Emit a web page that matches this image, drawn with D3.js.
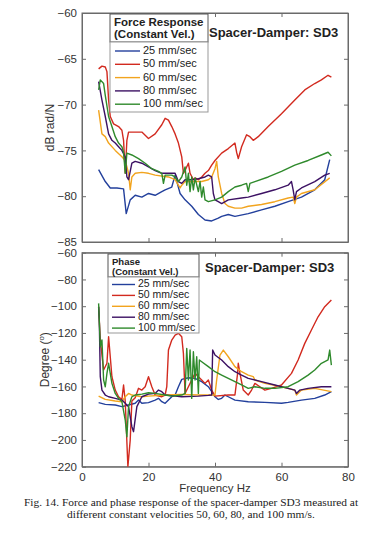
<!DOCTYPE html>
<html>
<head>
<meta charset="utf-8">
<script src="https://cdn.jsdelivr.net/npm/d3@7"></script>
<style>
  body { margin: 0; background: #fff; }
  svg { display: block; font-family: "Liberation Sans", Arial, sans-serif; }
  .tick text { fill: #333; }
</style>
</head>
<body>
<svg id="chart" width="367" height="545"></svg>
<script>
// series names and colours
const seriesNames = ['25 mm/sec', '50 mm/sec', '60 mm/sec', '80 mm/sec', '100 mm/sec'];
const seriesColors = ['#23409c', '#d22a1f', '#f2a41e', '#3c1163', '#2f8a2c'];
const xTicks = [0, 20, 40, 60, 80];
const magTicks = [-60, -65, -70, -75, -80, -85];
const phaseTicks = [-60, -80, -100, -120, -140, -160, -180, -200, -220];

// Force response (dB rad/N), [Hz, value]
const mag25 = [[5,-77.1],[7,-78.4],[8.5,-79.1],[10.5,-79.1],[12.5,-79.2],[13.3,-81.9],[14.5,-80.4],[16,-79.9],[18,-80.1],[20,-79.7],[22,-79.9],[24,-79.5],[25,-79.3],[27,-79.0],[28,-77.7],[29.5,-79.7],[31,-80.4],[33,-81.1],[35,-82.0],[37,-82.6],[39,-82.7],[41,-82.4],[42,-82.2],[44,-82.0],[46,-82.2],[50,-81.9],[54,-81.5],[58,-81.1],[62,-80.6],[66,-80.1],[70,-79.3],[73,-78.2],[74.5,-76.0]];
const mag50 = [[5,-66.1],[6,-65.8],[7,-65.9],[7.5,-66.4],[8,-69.5],[8.5,-71.3],[9.5,-72.1],[11,-72.4],[12,-72.8],[12.5,-73.9],[13,-77.5],[13.5,-73.9],[14,-73.0],[16,-73.0],[18,-73.0],[20,-73.7],[22,-73.2],[24,-72.2],[25,-71.5],[26,-71.7],[27,-72.4],[28,-73.2],[29,-74.2],[30,-75.7],[30.5,-77.5],[31,-77.2],[32,-76.4],[32.5,-77.5],[33.5,-78.2],[34,-78.0],[35,-78.2],[36,-77.9],[37,-77.5],[38,-77.2],[39,-76.6],[40,-76.1],[42,-75.3],[44,-74.8],[46,-74.2],[46.5,-75.2],[47,-75.9],[48,-74.6],[49.5,-73.3],[50.5,-73.5],[51.5,-73.9],[53,-73.5],[56,-72.4],[60,-71.0],[64,-69.5],[67,-68.4],[70,-67.7],[72,-67.3],[74,-66.8],[75,-67.0]];
const mag60 = [[5,-70.6],[6,-73.2],[7,-73.5],[8,-74.2],[10,-75.0],[12,-75.7],[13,-76.1],[14,-77.5],[14.5,-79.3],[15,-77.9],[16,-77.5],[18,-77.4],[20,-77.5],[22,-77.7],[26,-77.9],[28,-78.2],[29.5,-79.1],[30,-78.8],[31,-78.4],[33,-78.4],[36,-78.4],[38,-78.2],[39,-77.9],[40,-77.0],[40.5,-76.2],[41,-77.9],[42,-79.7],[43,-80.8],[44,-81.1],[46,-81.3],[48,-81.3],[50,-81.1],[54,-80.9],[58,-80.6],[62,-80.2],[63.5,-80.1],[64,-80.8],[64.5,-80.1],[66,-79.7],[70,-79.3],[74.5,-78.0]];
const mag80 = [[5,-67.5],[6,-69.5],[7,-71.3],[8,-73.2],[9,-73.9],[10,-74.2],[11,-74.6],[12,-75.0],[13,-75.7],[13.5,-77.9],[14,-78.2],[15,-76.4],[16,-76.2],[18,-76.4],[20,-76.8],[22,-77.2],[24,-77.5],[26,-77.5],[28,-77.5],[29,-78.4],[30,-78.6],[31,-78.2],[33,-78.2],[35,-78.1],[37,-77.9],[38,-77.7],[39,-77.9],[39.5,-79.7],[40,-80.4],[41,-80.6],[42,-80.8],[44,-80.4],[48,-80.2],[50,-80.1],[54,-79.7],[58,-79.3],[62,-78.8],[63,-78.4],[63.5,-79.3],[64,-80.4],[64.5,-79.5],[66,-79.1],[70,-78.4],[73,-77.7],[74.5,-77.5]];
const mag100 = [[5,-68.4],[5.5,-67.3],[6.5,-67.7],[7,-69.0],[8,-71.3],[9,-72.4],[10,-73.5],[11,-74.2],[12,-74.6],[12.5,-75.2],[13,-77.5],[13.5,-75.3],[15,-75.5],[17,-75.9],[19,-76.4],[21,-77.0],[23,-77.3],[24,-77.5],[24.5,-78.6],[25,-77.7],[27,-77.7],[28,-77.9],[29,-78.4],[30,-77.9],[31,-76.8],[31.5,-78.8],[32,-77.5],[32.5,-79.5],[33,-77.9],[33.5,-79.3],[34,-78.0],[35,-79.5],[35.5,-78.4],[36,-80.1],[36.5,-79.0],[37,-80.4],[38,-80.6],[40,-80.4],[42,-80.1],[44,-79.5],[46,-79.0],[48,-78.8],[49.5,-78.6],[50,-79.5],[50.5,-78.6],[52,-78.4],[56,-77.9],[60,-77.3],[64,-76.6],[68,-76.1],[72,-75.5],[74,-75.2],[75,-75.6]];

// Phase (degrees), [Hz, value]
const ph25 = [[5,-172.1],[7,-173.4],[10,-173.9],[12,-175.1],[14,-173.9],[16,-172.6],[17,-170.2],[18,-172.6],[20,-172.1],[22,-170.2],[23,-168.9],[24,-171.4],[25,-172.6],[26,-170.2],[27,-167.7],[28,-166.4],[29,-160.2],[30,-154.7],[32,-153.5],[34,-154.0],[36,-156.4],[38,-160.2],[39,-163.9],[40,-167.7],[41,-169.7],[42,-168.9],[43,-166.4],[44,-167.7],[46,-170.2],[50,-171.4],[55,-171.9],[60,-172.6],[62,-171.9],[66,-170.2],[70,-168.9],[73,-166.4],[75,-163.9]];
const ph50 = [[5,-100.4],[5.5,-125.3],[6.5,-147.7],[7.5,-142.7],[8,-122.8],[9,-152.7],[10,-162.7],[11,-167.7],[12,-169.7],[12.5,-158.9],[13,-170.9],[13.8,-220],[14.5,-200.1],[15,-170.9],[16,-168.4],[17,-161.4],[18,-162.7],[19,-160.2],[20,-152.7],[21,-160.2],[22,-166.4],[24,-167.7],[25,-166.4],[25.5,-160.2],[26,-132.8],[27,-125.3],[28,-121.6],[29,-120.3],[30,-122.8],[30.5,-135.3],[31,-165.2],[32,-160.2],[33,-155.2],[34,-150.2],[35,-152.7],[36,-155.2],[37,-157.7],[38,-155.2],[39,-162.7],[40,-167.2],[44,-166.4],[46,-166.4],[46.8,-150.2],[47,-142.7],[47.5,-150.2],[48.5,-162.7],[50,-166.4],[51,-162.7],[52,-157.7],[53.5,-160.2],[55,-162.7],[57,-161.4],[60,-158.9],[63,-150.2],[65,-140.2],[67,-127.8],[69,-117.8],[71,-107.9],[73,-100.4],[75,-95.4]];
const ph60 = [[5,-167.2],[7,-169.7],[10,-170.9],[12,-171.4],[13,-167.7],[14,-165.2],[15,-166.4],[18,-167.7],[20,-167.2],[25,-166.4],[30,-165.9],[35,-166.4],[40,-166.4],[40.5,-155.2],[41.5,-136.5],[42.5,-132.8],[44,-137.8],[46,-145.2],[48,-149.0],[50,-151.5],[51.5,-152.7],[52,-155.2],[55,-157.7],[60,-160.2],[64,-162.7],[64.5,-166.4],[66,-162.7],[70,-161.4],[75,-163.9]];
const ph80 = [[5,-100.4],[5.2,-110.4],[5.5,-152.7],[6,-162.7],[7,-166.4],[8,-167.7],[10,-168.9],[12,-170.2],[13,-172.6],[14,-175.1],[15,-190.1],[15.5,-193.8],[16.5,-175.1],[18,-167.7],[20,-165.7],[22,-165.2],[23,-162.7],[24,-163.9],[25,-166.4],[28,-167.2],[30,-167.7],[35,-167.2],[38,-166.7],[39,-166.4],[39.3,-132.8],[40,-136.5],[42,-140.2],[44,-145.2],[46,-149.0],[48,-151.5],[50,-154.0],[54,-156.4],[58,-158.9],[62,-161.4],[64,-162.7],[64.5,-165.2],[65.5,-162.7],[68,-161.4],[72,-160.2],[75,-160.2]];
const ph100 = [[5,-97.9],[5.5,-130.3],[6,-125.3],[6.5,-155.2],[7,-160.2],[7.5,-150.2],[8,-142.7],[9,-157.7],[10,-165.2],[11,-168.9],[12,-171.4],[13,-185.1],[13.5,-197.6],[14,-175.1],[15,-167.7],[16,-166.4],[18,-165.7],[20,-164.7],[22,-165.2],[25,-166.4],[27,-167.2],[30,-166.4],[31,-165.2],[31.5,-131.5],[32,-155.2],[32.5,-132.8],[33,-168.9],[33.5,-134.0],[34,-155.2],[34.5,-137.8],[35,-165.2],[35.3,-140.2],[36,-141.5],[38,-145.2],[40,-149.0],[42,-151.5],[44,-154.0],[46,-156.4],[48,-158.9],[50,-161.4],[52,-160.2],[55,-161.4],[58,-161.4],[62,-160.2],[65,-156.4],[68,-151.5],[70,-147.7],[72,-142.7],[74,-140.2],[74.5,-132.8],[75,-144.0]];

const magSeries = [mag25, mag50, mag60, mag80, mag100];
const phaseSeries = [ph25, ph50, ph60, ph80, ph100];

const svg = d3.select('#chart');
const left = 82, right = 348;

const x = d3.scaleLinear().domain([0, 80]).range([left, right]);

/**
 * Draw one boxed panel with its curves, legend and title
 */
function drawPanel(cfg) {
  const y = d3.scaleLinear().domain(cfg.yDomain).range([cfg.bottom, cfg.top]);
  const g = svg.append('g');
  const clipId = 'clip-' + cfg.name;

  g.append('clipPath').attr('id', clipId)
    .append('rect')
    .attr('x', left).attr('y', cfg.top)
    .attr('width', right - left).attr('height', cfg.bottom - cfg.top);

  // Axes on all four sides, ticks pointing inward (matlab style box)
  const yAxisL = d3.axisLeft(y).tickValues(cfg.yTicks).tickSize(-4).tickPadding(5).tickSizeOuter(0);
  const yAxisR = d3.axisRight(y).tickValues(cfg.yTicks).tickSize(-4).tickFormat('').tickSizeOuter(0);
  const xAxisB = d3.axisBottom(x).tickValues(xTicks).tickSize(-4).tickPadding(6).tickSizeOuter(0);
  const xAxisT = d3.axisTop(x).tickValues(xTicks).tickSize(-4).tickFormat('').tickSizeOuter(0);
  if (!cfg.showX) xAxisB.tickFormat('');

  const axes = [
    g.append('g').attr('transform', `translate(${left},0)`).call(yAxisL),
    g.append('g').attr('transform', `translate(${right},0)`).call(yAxisR),
    g.append('g').attr('transform', `translate(0,${cfg.bottom})`).call(xAxisB),
    g.append('g').attr('transform', `translate(0,${cfg.top})`).call(xAxisT)
  ];
  axes.forEach(a => {
    a.selectAll('path, line').attr('stroke', '#6b6b6b');
    a.selectAll('text').style('font-size', '11.5px');
  });
  g.append('rect')
    .attr('x', left).attr('y', cfg.top)
    .attr('width', right - left).attr('height', cfg.bottom - cfg.top)
    .attr('fill', 'none').attr('stroke', '#6b6b6b');

  const line = d3.line().x(d => x(d[0])).y(d => y(d[1]));
  g.append('g').attr('clip-path', `url(#${clipId})`)
    .selectAll('path')
    .data(cfg.series)
    .join('path')
    .attr('d', line)
    .attr('fill', 'none')
    .attr('stroke', (d, i) => seriesColors[i])
    .attr('stroke-width', 1.4)
    .attr('stroke-linejoin', 'round');

  // Y label
  g.append('text')
    .attr('transform', `translate(${cfg.yLabelX},${(cfg.top + cfg.bottom) / 2}) rotate(-90)`)
    .attr('text-anchor', 'middle')
    .attr('dominant-baseline', 'middle')
    .style('font-size', '12px')
    .attr('fill', '#333')
    .html(cfg.yLabel);

  // Legend
  const lg = cfg.legend;
  g.append('rect')
    .attr('x', lg.x).attr('y', lg.titleTop)
    .attr('width', lg.w).attr('height', lg.sep - lg.titleTop)
    .attr('fill', '#fff').attr('stroke', '#555');
  g.append('rect')
    .attr('x', lg.x).attr('y', lg.sep)
    .attr('width', lg.w).attr('height', lg.boxBottom - lg.sep)
    .attr('fill', '#fff').attr('stroke', '#999');
  lg.titleLines.forEach((t, i) => {
    g.append('text')
      .attr('x', lg.x + 4).attr('y', lg.titleY[i])
      .attr('dominant-baseline', 'middle')
      .style('font-size', lg.titleSize).style('font-weight', 'bold')
      .attr('fill', '#222')
      .text(t);
  });
  seriesNames.forEach((name, i) => {
    const yy = lg.firstRow + i * lg.rowStep;
    g.append('line')
      .attr('x1', lg.lineX1).attr('x2', lg.lineX2)
      .attr('y1', yy).attr('y2', yy)
      .attr('stroke', seriesColors[i]).attr('stroke-width', 1.4);
    g.append('text')
      .attr('x', lg.lineX2 + 3).attr('y', yy)
      .attr('dominant-baseline', 'middle')
      .style('font-size', lg.entrySize)
      .attr('fill', '#222')
      .text(name);
  });

  // Panel title
  g.append('text')
    .attr('x', cfg.titleX).attr('y', cfg.titleY)
    .attr('dominant-baseline', 'middle')
    .style('font-size', '13px').style('font-weight', 'bold')
    .attr('fill', '#222')
    .text('Spacer-Damper: SD3');
}

drawPanel({
  name: 'mag', top: 13, bottom: 242, yDomain: [-85, -60], yTicks: magTicks,
  series: magSeries, showX: false, yLabel: 'dB rad/N', yLabelX: 51,
  titleX: 209, titleY: 34,
  legend: {
    x: 110, w: 98, titleTop: 14, sep: 42, boxBottom: 112,
    titleLines: ['Force Response', '(Constant Vel.)'], titleY: [23, 35], titleSize: '11.5px',
    firstRow: 51, rowStep: 13.3, lineX1: 115, lineX2: 140, entrySize: '11px'
  }
});

drawPanel({
  name: 'phase', top: 252.7, bottom: 466.7, yDomain: [-220, -60], yTicks: phaseTicks,
  series: phaseSeries, showX: true, yLabel: 'Degree (<tspan baseline-shift="super" font-size="8px">o</tspan>)', yLabelX: 46,
  titleX: 205, titleY: 269,
  legend: {
    x: 108, w: 91, titleTop: 254, sep: 277, boxBottom: 333,
    titleLines: ['Phase', '(Constant Vel.)'], titleY: [262, 272], titleSize: '9.5px',
    firstRow: 284.5, rowStep: 10.9, lineX1: 112, lineX2: 135, entrySize: '10.5px'
  }
});

// X label
svg.append('text')
  .attr('x', 215).attr('y', 489)
  .attr('text-anchor', 'middle').attr('dominant-baseline', 'middle')
  .style('font-size', '11.5px').attr('fill', '#333')
  .text('Frequency Hz');

// Caption
const caption = [
  'Fig. 14. Force and phase response of the spacer-damper SD3 measured at',
  'different constant velocities 50, 60, 80, and 100 mm/s.'
];
svg.selectAll('.caption')
  .data(caption)
  .join('text')
  .attr('class', 'caption')
  .attr('x', 191).attr('y', (d, i) => 503 + i * 12.5)
  .attr('text-anchor', 'middle').attr('dominant-baseline', 'middle')
  .style('font-family', '"Liberation Serif", "Times New Roman", serif')
  .style('font-size', '11.4px').attr('fill', '#222')
  .text(d => d);
</script>
</body>
</html>
